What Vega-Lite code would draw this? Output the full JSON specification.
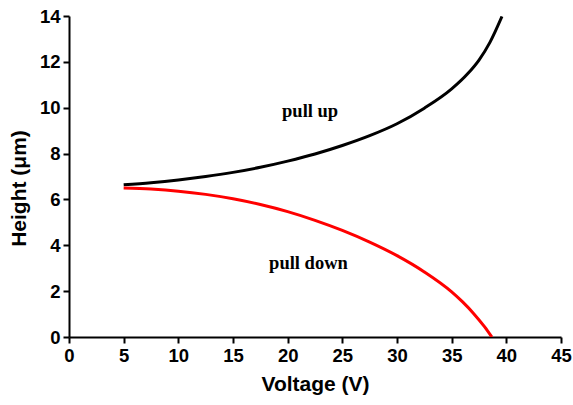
{
  "$schema": "https://vega.github.io/schema/vega-lite/v6.json",
  "width": 492,
  "height": 321,
  "autosize": "none",
  "padding": {"left": 69, "top": 16, "right": 12, "bottom": 68},
  "background": "white",
  "config": {"view": {"stroke": null}},
  "datasets": {
    "curves": [
      {"voltage": 5, "height": 6.64, "series": "pull up"},
      {"voltage": 7.5, "height": 6.73, "series": "pull up"},
      {"voltage": 10, "height": 6.85, "series": "pull up"},
      {"voltage": 12.5, "height": 7.0, "series": "pull up"},
      {"voltage": 15, "height": 7.18, "series": "pull up"},
      {"voltage": 17.5, "height": 7.4, "series": "pull up"},
      {"voltage": 20, "height": 7.67, "series": "pull up"},
      {"voltage": 22.5, "height": 7.98, "series": "pull up"},
      {"voltage": 25, "height": 8.35, "series": "pull up"},
      {"voltage": 27.5, "height": 8.78, "series": "pull up"},
      {"voltage": 30, "height": 9.3, "series": "pull up"},
      {"voltage": 32.5, "height": 9.98, "series": "pull up"},
      {"voltage": 35, "height": 10.82, "series": "pull up"},
      {"voltage": 36.5, "height": 11.5, "series": "pull up"},
      {"voltage": 37.5, "height": 12.08, "series": "pull up"},
      {"voltage": 38.5, "height": 12.85, "series": "pull up"},
      {"voltage": 39.6, "height": 13.98, "series": "pull up"},
      {"voltage": 5, "height": 6.5, "series": "pull down"},
      {"voltage": 7.5, "height": 6.45, "series": "pull down"},
      {"voltage": 10, "height": 6.36, "series": "pull down"},
      {"voltage": 12.5, "height": 6.22, "series": "pull down"},
      {"voltage": 15, "height": 6.03, "series": "pull down"},
      {"voltage": 17.5, "height": 5.78, "series": "pull down"},
      {"voltage": 20, "height": 5.47, "series": "pull down"},
      {"voltage": 22.5, "height": 5.09, "series": "pull down"},
      {"voltage": 25, "height": 4.65, "series": "pull down"},
      {"voltage": 27.5, "height": 4.14, "series": "pull down"},
      {"voltage": 30, "height": 3.55, "series": "pull down"},
      {"voltage": 32.5, "height": 2.84, "series": "pull down"},
      {"voltage": 35, "height": 1.97, "series": "pull down"},
      {"voltage": 36, "height": 1.53, "series": "pull down"},
      {"voltage": 37, "height": 1.03, "series": "pull down"},
      {"voltage": 38, "height": 0.45, "series": "pull down"},
      {"voltage": 38.67, "height": 0.0, "series": "pull down"}
    ],
    "labels": [
      {"voltage": 22.05, "height": 9.87, "text": "pull up"},
      {"voltage": 21.9, "height": 3.24, "text": "pull down"}
    ]
  },
  "layer": [
    {
      "data": {"name": "curves"},
      "mark": {"type": "line", "strokeWidth": 3, "interpolate": "monotone", "clip": true},
      "encoding": {
        "x": {
          "field": "voltage", "type": "quantitative",
          "scale": {"domain": [0, 45], "nice": false, "zero": false},
          "axis": {
            "title": "Voltage (V)",
            "values": [0, 2.5, 5, 7.5, 10, 12.5, 15, 17.5, 20, 22.5, 25, 27.5, 30, 32.5, 35, 37.5, 40, 42.5, 45],
            "labelExpr": "datum.value % 5 === 0 ? datum.label : ''",
            "tickSize": {"condition": {"test": "datum.value % 5 === 0", "value": 6}, "value": 3},
            "grid": false,
            "domainColor": "black", "domainWidth": 2,
            "tickColor": "black", "tickWidth": 2,
            "labelFont": "Liberation Sans", "labelFontWeight": "bold", "labelFontSize": 18.5, "labelColor": "black",
            "labelPadding": 3, "labelFlush": false, "labelOverlap": false,
            "titleFont": "Liberation Sans", "titleFontWeight": "bold", "titleFontSize": 21, "titleColor": "black",
            "titlePadding": 9
          }
        },
        "y": {
          "field": "height", "type": "quantitative",
          "scale": {"domain": [0, 14], "nice": false, "zero": false},
          "axis": {
            "title": "Height (μm)",
            "values": [0, 1, 2, 3, 4, 5, 6, 7, 8, 9, 10, 11, 12, 13, 14],
            "labelExpr": "datum.value % 2 === 0 ? datum.label : ''",
            "tickSize": {"condition": {"test": "datum.value % 2 === 0", "value": 6}, "value": 3},
            "grid": false,
            "domainColor": "black", "domainWidth": 2,
            "tickColor": "black", "tickWidth": 2,
            "labelFont": "Liberation Sans", "labelFontWeight": "bold", "labelFontSize": 18.5, "labelColor": "black",
            "labelPadding": 3, "labelFlush": false, "labelOverlap": false,
            "titleFont": "Liberation Sans", "titleFontWeight": "bold", "titleFontSize": 21, "titleColor": "black",
            "titlePadding": 10, "titleY": 172
          }
        },
        "color": {
          "field": "series", "type": "nominal",
          "scale": {"domain": ["pull up", "pull down"], "range": ["#000000", "#ff0000"]},
          "legend": null
        }
      }
    },
    {
      "data": {"name": "labels"},
      "mark": {"type": "text", "font": "Liberation Serif", "fontWeight": "bold", "fontSize": 18.5, "color": "black", "align": "center", "baseline": "middle"},
      "encoding": {
        "x": {"field": "voltage", "type": "quantitative"},
        "y": {"field": "height", "type": "quantitative"},
        "text": {"field": "text"}
      }
    }
  ]
}
